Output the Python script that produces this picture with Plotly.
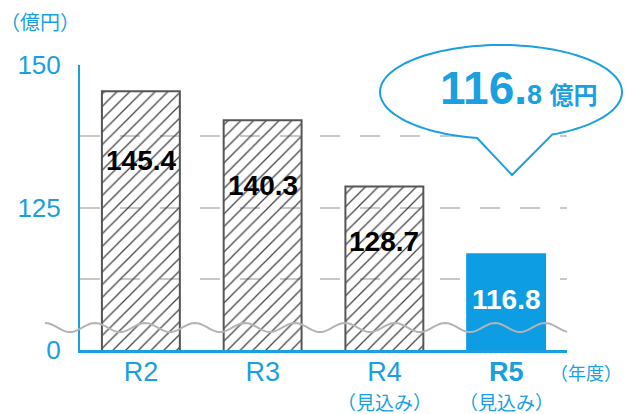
import math
import plotly.graph_objects as go

# ---- data ----
categories = ["R2", "R3", "R4", "R5"]
values = [145.4, 140.3, 128.7, 116.8]
cat_labels = ["R2", "R3", "R4", "<b>R5</b>"]
sub_labels = ["", "", "（見込み）", "（見込み）"]
ytick_vals = [100, 112.5, 125, 137.5, 150]
ytick_text = ["0", "", "125", "", "150"]
unit_label = "（億円）"
year_label = "（年度）"

BLUE = "#1a9fe0"
BAR_BLUE = "#0d9de3"
FONT = "Liberation Sans, Arial, Noto Sans CJK JP"
JFONT = "Noto Sans CJK JP, Liberation Sans"

W, H = 625, 414
L, R, T, B = 80, 58, 65, 64
PW, PH = W - L - R, H - T - B


def px2paper(px, py):
    return (px - L) / PW, (H - B - py) / PH


fig = go.Figure()
fig.add_trace(go.Bar(
    x=categories, y=values, width=0.64,
    marker=dict(
        color=["rgba(255,255,255,0)"] * 3 + [BAR_BLUE],
        line=dict(color=["#555555"] * 3 + [BAR_BLUE], width=2),
        pattern=dict(shape=["/", "/", "/", ""], fgcolor="#000000", fgopacity=1,
                     bgcolor="rgba(255,255,255,0)", size=9, solidity=0.14,
                     fillmode="overlay"),
    ),
    hoverinfo="skip",
))

ANN = dict(showarrow=False, xanchor="center", yanchor="middle")

# value labels
for c, v in zip(categories, values):
    fig.add_annotation(x=c, y=v * 0.857 + 8.7, xref="x", yref="y",
                       text=f"<b>{v:.1f}</b>", **ANN,
                       font=dict(family=FONT, size=28,
                                 color="white" if c == categories[-1] else "black"))

# sub labels under categories
for c, s in zip(categories, sub_labels):
    if s:
        fig.add_annotation(x=c, y=px2paper(0, 401)[1], xref="x", yref="paper",
                           text=s, **ANN,
                           font=dict(family=JFONT, size=19, color=BLUE))

fig.add_annotation(x=px2paper(586, 0)[0], y=px2paper(0, 372)[1], xref="paper", yref="paper",
                   text=year_label, **ANN,
                   font=dict(family=JFONT, size=18, color=BLUE))
fig.add_annotation(x=px2paper(40, 0)[0], y=px2paper(0, 22)[1], xref="paper", yref="paper",
                   text=unit_label, **ANN,
                   font=dict(family=JFONT, size=20, color=BLUE))

# wave (axis break)
pts = []
x = 45.0
while x <= 567:
    y = 327.5 + 4.5 * math.sin(2 * math.pi * (x - 45) / 50 - math.pi / 2)
    px, py = px2paper(x, y)
    pts.append(f"{px:.5f},{py:.5f}")
    x += 2
wave = "M" + " L".join(pts)
fig.add_shape(type="path", path=wave, xref="paper", yref="paper",
              line=dict(color="#b3b3b3", width=2), layer="above")

# speech bubble
cx, cy, rx, ry = 501, 92, 121, 47
bp = []
t0, t1 = 65.0, 101.4 - 360
n = 120
for i in range(n + 1):
    t = math.radians(t0 + (t1 - t0) * i / n)
    bp.append(px2paper(cx + rx * math.cos(t), cy + ry * math.sin(t)))
bp.append(px2paper(512, 175))
bubble = "M" + " L".join(f"{a:.5f},{b:.5f}" for a, b in bp) + " Z"
fig.add_shape(type="path", path=bubble, xref="paper", yref="paper",
              line=dict(color=BLUE, width=2), fillcolor="white", layer="above")

v = values[-1]
whole, frac = f"{v:.1f}".split(".")
fig.add_annotation(x=px2paper(519, 0)[0], y=px2paper(0, 88)[1], xref="paper", yref="paper",
                   text=(f"<b>{whole}.</b><b><span style='font-size:27px'>{frac} </span>"
                         f"<span style='font-size:24px;font-family:Noto Sans CJK JP'>億円</span></b>"),
                   **ANN, font=dict(family=FONT, size=46, color=BLUE))

fig.update_layout(
    width=W, height=H, margin=dict(l=L, r=R, t=T, b=B, autoexpand=False),
    paper_bgcolor="white", plot_bgcolor="white", showlegend=False,
    xaxis=dict(showline=True, linecolor=BLUE, linewidth=2.5, ticks="", automargin=False,
               tickvals=categories, ticktext=cat_labels, showgrid=False,
               tickfont=dict(family=FONT, size=27, color=BLUE), ticklabelstandoff=-4,
               range=[-0.5, 3.5]),
    yaxis=dict(range=[100, 150], showline=True, linecolor=BLUE, linewidth=2, automargin=False,
               tickvals=ytick_vals, ticktext=ytick_text, ticks="",
               tickfont=dict(family=FONT, size=26, color=BLUE), ticklabelstandoff=12,
               showgrid=True, gridcolor="#c8c8c8", gridwidth=2, griddash="20px,20px",
               zeroline=False),
)

fig.write_html("out.html", config={"displayModeBar": False},
               post_script="document.body.style.margin='0';")
